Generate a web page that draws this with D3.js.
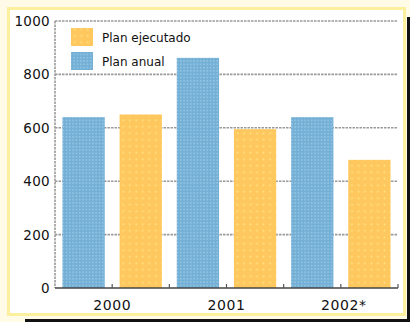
<!DOCTYPE html>
<html><head><meta charset="utf-8">
<script src="https://cdn.jsdelivr.net/npm/d3@7"></script>
<style>body{margin:0;background:#fffbe6;}svg{display:block;}</style>
</head><body>
<svg id="c" width="410" height="322"></svg>
<script>
const categories = ["2000", "2001", "2002*"];
const seriesNames = ["Plan anual", "Plan ejecutado"];
const planAnual = [640, 862, 640];
const planEjecutado = [650, 595, 480];
const yTicks = [0, 200, 400, 600, 800, 1000];

(function(){
const svg = d3.select("#c");
// frame
svg.append("rect").attr("x",0).attr("y",0).attr("width",410).attr("height",322).attr("fill","#fffbe6");
svg.append("rect").attr("x",25).attr("y",319).attr("width",385).attr("height",3).attr("fill","#111");
svg.append("rect").attr("x",407).attr("y",17).attr("width",3).attr("height",305).attr("fill","#111");
svg.append("rect").attr("x",7).attr("y",7).attr("width",399).attr("height",309).attr("fill","#fcef9e");
svg.append("rect").attr("x",10).attr("y",10).attr("width",393).attr("height",303).attr("fill","#fff");

const defs = svg.append("defs");
const pb = defs.append("pattern").attr("id","pBlue").attr("patternUnits","userSpaceOnUse").attr("width",3.3).attr("height",3.3);
pb.append("rect").attr("width",3.3).attr("height",3.3).attr("fill","#74b0d6");
pb.append("rect").attr("x",1).attr("y",1).attr("width",1.2).attr("height",1.2).attr("fill","#a9d3ec");
const po = defs.append("pattern").attr("id","pOrange").attr("patternUnits","userSpaceOnUse").attr("width",6.5).attr("height",6.5);
po.append("rect").attr("width",6.5).attr("height",6.5).attr("fill","#ffc85e");
po.append("rect").attr("x",2.5).attr("y",2.5).attr("width",1.5).attr("height",1.5).attr("fill","#ffe88e");

const pLeft = 55, pRight = 398, pTop = 21, pBottom = 288;
const y = d3.scaleLinear().domain([0, 1000]).range([pBottom, pTop]);
const x0 = d3.scaleBand().domain(categories).range([pLeft, pRight]).paddingInner(0).paddingOuter(0);
const x1 = d3.scaleBand().domain(seriesNames).range([0, x0.bandwidth()]).paddingInner(0.26).paddingOuter(0.13);

// gridlines
svg.append("g").selectAll("line").data(yTicks.filter(d=>d>0)).join("line")
  .attr("x1", pLeft).attr("x2", pRight).attr("y1", d=>y(d)).attr("y2", d=>y(d))
  .attr("stroke","#9a9a9a").attr("stroke-width",1.6).attr("stroke-dasharray","2.5,1");
// left axis dotted
svg.append("line").attr("x1",pLeft).attr("x2",pLeft).attr("y1",y(1000)).attr("y2",y(0))
  .attr("stroke","#9a9a9a").attr("stroke-width",1.6).attr("stroke-dasharray","2.5,1");

// bars
const colors = {"Plan anual":"url(#pBlue)", "Plan ejecutado":"url(#pOrange)"};
const rows = categories.map((c,i)=>({cat:c, vals:[{s:"Plan anual", v:planAnual[i]}, {s:"Plan ejecutado", v:planEjecutado[i]}]}));
svg.append("g").selectAll("g").data(rows).join("g")
  .attr("transform", d=>`translate(${x0(d.cat)},0)`)
  .selectAll("rect").data(d=>d.vals).join("rect")
  .attr("x", d=>x1(d.s)).attr("width", x1.bandwidth())
  .attr("y", d=>y(d.v)).attr("height", d=>y(0)-y(d.v))
  .attr("fill", d=>colors[d.s]);

// bottom axis
svg.append("line").attr("x1",pLeft).attr("x2",pRight).attr("y1",pBottom).attr("y2",pBottom)
  .attr("stroke","#444").attr("stroke-width",1.6);
const tickPos = [];
categories.forEach(c=>{ tickPos.push(x0(c)+x0.bandwidth()/2); tickPos.push(x0(c)+x0.bandwidth()); });
svg.append("g").selectAll("line").data(tickPos).join("line")
  .attr("x1",d=>d).attr("x2",d=>d).attr("y1",pBottom-4).attr("y2",pBottom)
  .attr("stroke","#555").attr("stroke-width",1.2);

// y labels
svg.append("g").selectAll("text").data(yTicks).join("text")
  .attr("x", 50).attr("y", d=>y(d)+5).attr("text-anchor","end")
  .attr("font-family","DejaVu Sans").attr("font-size",13.5).attr("letter-spacing",0.3)
  .attr("fill","#111").text(d=>d);
// x labels
svg.append("g").selectAll("text").data(categories).join("text")
  .attr("x", d=>x0(d)+x0.bandwidth()/2 + (d.endsWith("*")?3:0)).attr("y", 310).attr("text-anchor","middle")
  .attr("font-family","DejaVu Sans").attr("font-size",14).attr("letter-spacing",0.6)
  .attr("fill","#111").text(d=>d);

// legend
const legend = [{s:"Plan ejecutado", y:28}, {s:"Plan anual", y:52}];
const lg = svg.append("g").selectAll("g").data(legend).join("g");
lg.append("rect").attr("x",71).attr("y",d=>d.y).attr("width",22).attr("height",18).attr("fill",d=>colors[d.s]);
lg.append("text").attr("x",102).attr("y",d=>d.y+14).attr("font-family","DejaVu Sans").attr("font-size",12)
  .attr("fill","#111").text(d=>d.s);
})();
</script>
</body></html>
